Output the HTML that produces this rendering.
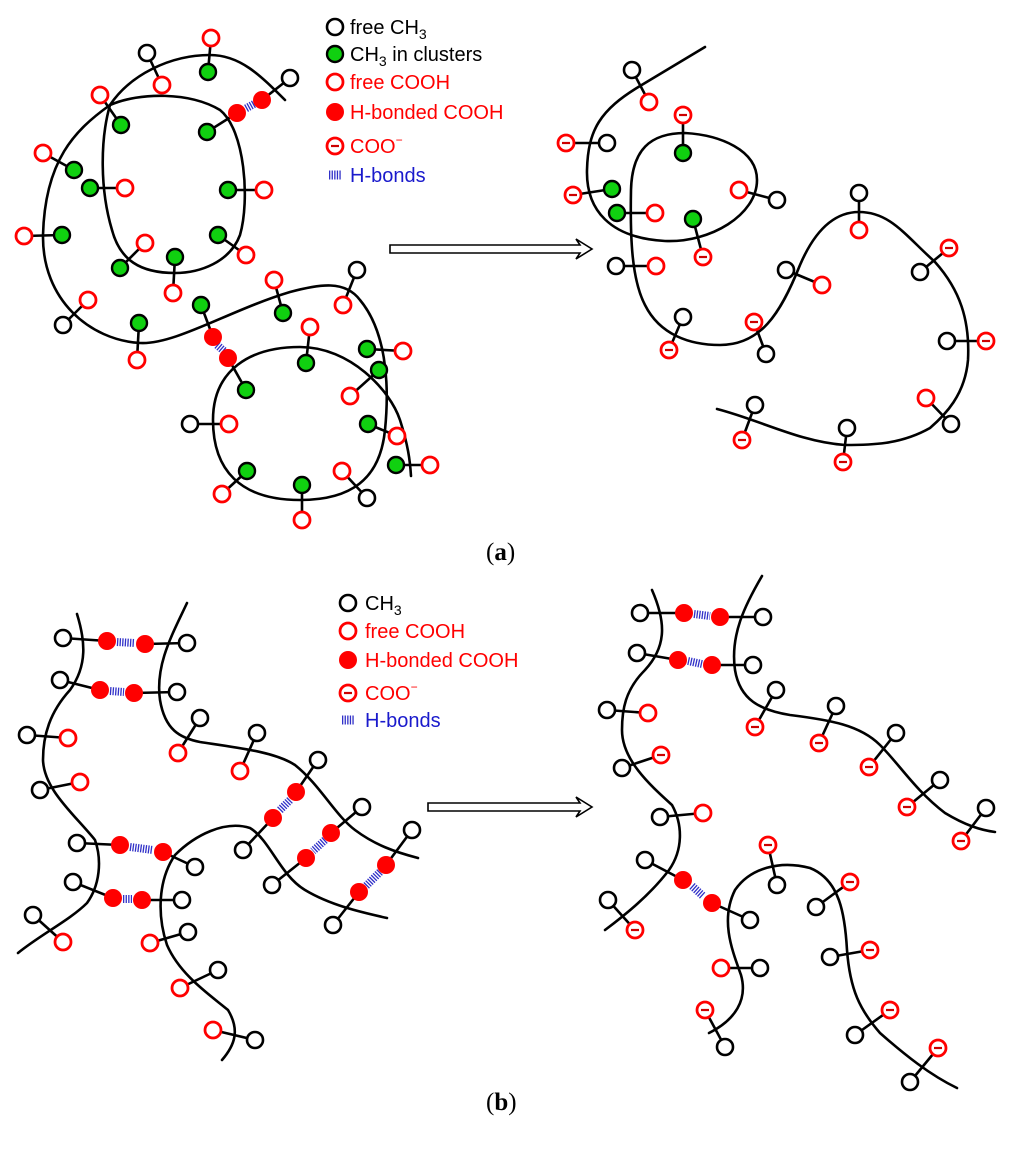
<!DOCTYPE html>
<html><head><meta charset="utf-8"><style>
html,body{margin:0;padding:0;background:#fff}
svg{display:block}
.ch{fill:none;stroke:#000;stroke-width:2.6;stroke-linecap:round;stroke-linejoin:round}
.st{stroke:#000;stroke-width:2.6}
.hb{stroke:#3030c8;stroke-width:8;stroke-dasharray:1.3 1.3}
.lg{font-family:"Liberation Sans",sans-serif;font-size:20px}
</style></head><body>
<svg width="1024" height="1151" viewBox="0 0 1024 1151" xmlns="http://www.w3.org/2000/svg">
<defs>
<g id="k"><circle r="8" fill="#fff" stroke="#000" stroke-width="2.6"/></g>
<g id="g"><circle r="8" fill="#10d010" stroke="#000" stroke-width="2.4"/></g>
<g id="r"><circle r="8" fill="#fff" stroke="#f00" stroke-width="2.8"/></g>
<g id="R"><circle r="9" fill="#f00"/></g>
<g id="m"><circle r="8" fill="#fff" stroke="#f00" stroke-width="2.8"/><line x1="-4" y1="0" x2="4" y2="0" stroke="#c00" stroke-width="2.2"/></g>
</defs>

<!-- ===== (a) left ===== -->
<path class="ch" d="M285,100 C260,75 240,55 210,55 C170,55 130,75 110,105 C75,130 45,160 43,235 C42,300 90,340 140,343 C175,345 230,310 290,292 C320,284 345,280 360,300 C385,330 390,380 385,430 C380,480 350,500 300,500 C240,500 213,470 213,420 C213,370 250,347 300,347 C350,347 390,390 400,420 C408,445 410,460 411,476"/>
<path class="ch" d="M110,105 C140,92 190,92 220,110 C245,130 250,200 240,235 C230,262 200,273 175,273 C140,273 120,260 112,230 C100,190 100,140 110,105 Z"/>
<g class="st">
<line x1="147" y1="53" x2="162" y2="85"/><line x1="211" y1="38" x2="208" y2="72"/>
<line x1="290" y1="78" x2="262" y2="100"/><line x1="237" y1="113" x2="207" y2="132"/>
<line x1="100" y1="95" x2="121" y2="125"/><line x1="43" y1="153" x2="74" y2="170"/>
<line x1="90" y1="188" x2="125" y2="188"/><line x1="24" y1="236" x2="62" y2="235"/>
<line x1="228" y1="190" x2="264" y2="190"/><line x1="145" y1="243" x2="120" y2="268"/>
<line x1="175" y1="257" x2="173" y2="293"/><line x1="218" y1="235" x2="246" y2="255"/>
<line x1="88" y1="300" x2="63" y2="325"/><line x1="139" y1="323" x2="137" y2="360"/>
<line x1="201" y1="305" x2="213" y2="337"/><line x1="228" y1="358" x2="246" y2="390"/>
<line x1="274" y1="280" x2="283" y2="313"/><line x1="357" y1="270" x2="343" y2="305"/>
<line x1="310" y1="327" x2="306" y2="363"/><line x1="367" y1="349" x2="403" y2="351"/>
<line x1="379" y1="370" x2="350" y2="396"/><line x1="190" y1="424" x2="229" y2="424"/>
<line x1="368" y1="424" x2="397" y2="436"/><line x1="396" y1="465" x2="430" y2="465"/>
<line x1="247" y1="471" x2="222" y2="494"/><line x1="302" y1="485" x2="302" y2="520"/>
<line x1="342" y1="471" x2="367" y2="498"/>
</g>
<line class="hb" x1="254" y1="104" x2="245" y2="109"/>
<line class="hb" x1="217" y1="345" x2="224" y2="351"/>
<use href="#k" x="147" y="53"/><use href="#r" x="162" y="85"/>
<use href="#r" x="211" y="38"/><use href="#g" x="208" y="72"/>
<use href="#k" x="290" y="78"/><use href="#R" x="262" y="100"/><use href="#R" x="237" y="113"/><use href="#g" x="207" y="132"/>
<use href="#r" x="100" y="95"/><use href="#g" x="121" y="125"/>
<use href="#r" x="43" y="153"/><use href="#g" x="74" y="170"/>
<use href="#g" x="90" y="188"/><use href="#r" x="125" y="188"/>
<use href="#r" x="24" y="236"/><use href="#g" x="62" y="235"/>
<use href="#g" x="228" y="190"/><use href="#r" x="264" y="190"/>
<use href="#r" x="145" y="243"/><use href="#g" x="120" y="268"/>
<use href="#g" x="175" y="257"/><use href="#r" x="173" y="293"/>
<use href="#g" x="218" y="235"/><use href="#r" x="246" y="255"/>
<use href="#r" x="88" y="300"/><use href="#k" x="63" y="325"/>
<use href="#g" x="139" y="323"/><use href="#r" x="137" y="360"/>
<use href="#g" x="201" y="305"/><use href="#R" x="213" y="337"/><use href="#R" x="228" y="358"/><use href="#g" x="246" y="390"/>
<use href="#r" x="274" y="280"/><use href="#g" x="283" y="313"/>
<use href="#k" x="357" y="270"/><use href="#r" x="343" y="305"/>
<use href="#r" x="310" y="327"/><use href="#g" x="306" y="363"/>
<use href="#g" x="367" y="349"/><use href="#r" x="403" y="351"/>
<use href="#g" x="379" y="370"/><use href="#r" x="350" y="396"/>
<use href="#k" x="190" y="424"/><use href="#r" x="229" y="424"/>
<use href="#g" x="368" y="424"/><use href="#r" x="397" y="436"/>
<use href="#g" x="396" y="465"/><use href="#r" x="430" y="465"/>
<use href="#g" x="247" y="471"/><use href="#r" x="222" y="494"/>
<use href="#g" x="302" y="485"/><use href="#r" x="302" y="520"/>
<use href="#r" x="342" y="471"/><use href="#k" x="367" y="498"/>

<!-- legend a -->
<use href="#k" x="335" y="27"/><use href="#g" x="335" y="54"/><use href="#r" x="335" y="82"/><use href="#R" x="335" y="112"/><use href="#m" x="335" y="146"/>
<line class="hb" x1="329" y1="175" x2="341" y2="175" style="stroke-width:9"/>
<text class="lg" x="350" y="34">free CH<tspan font-size="14" dy="5">3</tspan></text>
<text class="lg" x="350" y="61">CH<tspan font-size="14" dy="5">3</tspan><tspan dy="-5"> in clusters</tspan></text>
<text class="lg" x="350" y="89" fill="#f00">free COOH</text>
<text class="lg" x="350" y="119" fill="#f00">H-bonded COOH</text>
<text class="lg" x="350" y="153" fill="#f00">COO<tspan font-size="12" dy="-9">−</tspan></text>
<text class="lg" x="350" y="182" fill="#1a1acc">H-bonds</text>

<!-- arrow a -->
<polygon points="390,245 580,245 576,239 592,249 576,259 580,253 390,253" fill="#fff" stroke="#000" stroke-width="1.6"/>

<!-- ===== (a) right ===== -->
<path class="ch" d="M705,47 L640,86 C600,110 588,130 587,170 C586,210 610,238 665,241 C710,243 757,215 757,180 C757,150 720,135 685,133 C650,133 632,150 631,190 C630,240 632,280 645,305 C660,335 690,345 720,345 C760,345 780,315 800,265 C815,230 835,212 859,212 C890,212 905,235 935,262 C960,290 970,320 968,360 C965,395 945,415 930,428 C900,445 870,445 845,445 C800,442 760,420 717,409"/>
<g class="st">
<line x1="632" y1="70" x2="649" y2="102"/><line x1="683" y1="115" x2="683" y2="153"/>
<line x1="566" y1="143" x2="607" y2="143"/><line x1="573" y1="195" x2="612" y2="189"/>
<line x1="617" y1="213" x2="655" y2="213"/><line x1="739" y1="190" x2="777" y2="200"/>
<line x1="693" y1="219" x2="703" y2="257"/><line x1="616" y1="266" x2="656" y2="266"/>
<line x1="683" y1="317" x2="669" y2="350"/><line x1="754" y1="322" x2="766" y2="354"/>
<line x1="786" y1="270" x2="822" y2="285"/><line x1="859" y1="193" x2="859" y2="230"/>
<line x1="949" y1="248" x2="920" y2="272"/><line x1="947" y1="341" x2="986" y2="341"/>
<line x1="926" y1="398" x2="951" y2="424"/><line x1="755" y1="405" x2="742" y2="440"/>
<line x1="847" y1="428" x2="843" y2="462"/>
</g>
<use href="#k" x="632" y="70"/><use href="#r" x="649" y="102"/>
<use href="#m" x="683" y="115"/><use href="#g" x="683" y="153"/>
<use href="#m" x="566" y="143"/><use href="#k" x="607" y="143"/>
<use href="#m" x="573" y="195"/><use href="#g" x="612" y="189"/>
<use href="#g" x="617" y="213"/><use href="#r" x="655" y="213"/>
<use href="#r" x="739" y="190"/><use href="#k" x="777" y="200"/>
<use href="#g" x="693" y="219"/><use href="#m" x="703" y="257"/>
<use href="#k" x="616" y="266"/><use href="#r" x="656" y="266"/>
<use href="#k" x="683" y="317"/><use href="#m" x="669" y="350"/>
<use href="#m" x="754" y="322"/><use href="#k" x="766" y="354"/>
<use href="#k" x="786" y="270"/><use href="#r" x="822" y="285"/>
<use href="#k" x="859" y="193"/><use href="#r" x="859" y="230"/>
<use href="#m" x="949" y="248"/><use href="#k" x="920" y="272"/>
<use href="#k" x="947" y="341"/><use href="#m" x="986" y="341"/>
<use href="#r" x="926" y="398"/><use href="#k" x="951" y="424"/>
<use href="#k" x="755" y="405"/><use href="#m" x="742" y="440"/>
<use href="#k" x="847" y="428"/><use href="#m" x="843" y="462"/>

<text x="486" y="560" font-family="Liberation Serif,serif" font-size="25">(<tspan font-weight="bold">a</tspan>)</text>

<!-- ===== (b) left ===== -->
<path class="ch" d="M77,614 C85,640 88,665 70,690 C50,712 43,735 43,760 C44,790 75,815 95,840 C102,860 100,885 87,903 C70,920 40,935 18,953"/>
<path class="ch" d="M187,603 C172,635 155,665 160,700 C165,730 180,738 200,742 C240,748 275,752 295,765 C320,785 335,815 355,830 C375,845 395,852 418,858"/>
<path class="ch" d="M387,918 C360,912 330,905 305,890 C280,875 270,840 250,828 C225,820 195,835 175,855 C158,880 157,915 167,945 C180,975 210,995 228,1010 C240,1030 235,1045 222,1060"/>
<g class="st">
<line x1="63" y1="638" x2="107" y2="641"/><line x1="145" y1="644" x2="187" y2="643"/>
<line x1="60" y1="680" x2="100" y2="690"/><line x1="134" y1="693" x2="177" y2="692"/>
<line x1="27" y1="735" x2="68" y2="738"/><line x1="40" y1="790" x2="80" y2="782"/>
<line x1="178" y1="753" x2="200" y2="718"/><line x1="240" y1="771" x2="257" y2="733"/>
<line x1="318" y1="760" x2="296" y2="792"/><line x1="273" y1="818" x2="243" y2="850"/>
<line x1="362" y1="807" x2="331" y2="833"/><line x1="306" y1="858" x2="272" y2="885"/>
<line x1="412" y1="830" x2="386" y2="865"/><line x1="359" y1="892" x2="333" y2="925"/>
<line x1="77" y1="843" x2="120" y2="845"/><line x1="163" y1="852" x2="195" y2="867"/>
<line x1="73" y1="882" x2="113" y2="898"/><line x1="142" y1="900" x2="182" y2="900"/>
<line x1="33" y1="915" x2="63" y2="942"/><line x1="150" y1="943" x2="188" y2="932"/>
<line x1="180" y1="988" x2="218" y2="970"/><line x1="213" y1="1030" x2="255" y2="1040"/>
</g>
<g class="hb">
<line x1="117" y1="642" x2="135" y2="643"/><line x1="110" y1="691" x2="124" y2="692"/>
<line x1="290" y1="800" x2="279" y2="811"/><line x1="325" y1="840" x2="313" y2="851"/>
<line x1="380" y1="872" x2="366" y2="886"/><line x1="130" y1="847" x2="153" y2="850"/>
<line x1="123" y1="899" x2="132" y2="899"/>
</g>
<use href="#k" x="63" y="638"/><use href="#R" x="107" y="641"/><use href="#R" x="145" y="644"/><use href="#k" x="187" y="643"/>
<use href="#k" x="60" y="680"/><use href="#R" x="100" y="690"/><use href="#R" x="134" y="693"/><use href="#k" x="177" y="692"/>
<use href="#k" x="27" y="735"/><use href="#r" x="68" y="738"/>
<use href="#k" x="40" y="790"/><use href="#r" x="80" y="782"/>
<use href="#r" x="178" y="753"/><use href="#k" x="200" y="718"/>
<use href="#r" x="240" y="771"/><use href="#k" x="257" y="733"/>
<use href="#k" x="318" y="760"/><use href="#R" x="296" y="792"/><use href="#R" x="273" y="818"/><use href="#k" x="243" y="850"/>
<use href="#k" x="362" y="807"/><use href="#R" x="331" y="833"/><use href="#R" x="306" y="858"/><use href="#k" x="272" y="885"/>
<use href="#k" x="412" y="830"/><use href="#R" x="386" y="865"/><use href="#R" x="359" y="892"/><use href="#k" x="333" y="925"/>
<use href="#k" x="77" y="843"/><use href="#R" x="120" y="845"/><use href="#R" x="163" y="852"/><use href="#k" x="195" y="867"/>
<use href="#k" x="73" y="882"/><use href="#R" x="113" y="898"/><use href="#R" x="142" y="900"/><use href="#k" x="182" y="900"/>
<use href="#k" x="33" y="915"/><use href="#r" x="63" y="942"/>
<use href="#r" x="150" y="943"/><use href="#k" x="188" y="932"/>
<use href="#r" x="180" y="988"/><use href="#k" x="218" y="970"/>
<use href="#r" x="213" y="1030"/><use href="#k" x="255" y="1040"/>

<!-- legend b -->
<use href="#k" x="348" y="603"/><use href="#r" x="348" y="631"/><use href="#R" x="348" y="660"/><use href="#m" x="348" y="693"/>
<line class="hb" x1="342" y1="720" x2="354" y2="720" style="stroke-width:9"/>
<text class="lg" x="365" y="610">CH<tspan font-size="14" dy="5">3</tspan></text>
<text class="lg" x="365" y="638" fill="#f00">free COOH</text>
<text class="lg" x="365" y="667" fill="#f00">H-bonded COOH</text>
<text class="lg" x="365" y="700" fill="#f00">COO<tspan font-size="12" dy="-9">−</tspan></text>
<text class="lg" x="365" y="727" fill="#1a1acc">H-bonds</text>

<polygon points="428,803 580,803 576,797 592,807 576,817 580,811 428,811" fill="#fff" stroke="#000" stroke-width="1.6"/>

<!-- ===== (b) right ===== -->
<path class="ch" d="M652,590 C665,620 668,645 645,670 C625,690 622,710 622,730 C622,760 650,785 672,805 C683,825 683,850 669,870 C650,895 625,915 605,930"/>
<path class="ch" d="M762,576 C745,605 730,635 735,670 C740,700 760,710 790,715 C830,720 860,725 880,745 C900,765 915,790 945,813 C965,825 980,830 995,832"/>
<path class="ch" d="M709,1033 C735,1020 748,1000 741,975 C732,950 720,920 735,890 C750,868 780,860 810,868 C840,880 845,915 847,950 C850,990 860,1010 880,1033 C905,1055 930,1075 957,1088"/>
<g class="st">
<line x1="640" y1="613" x2="684" y2="613"/><line x1="720" y1="617" x2="763" y2="617"/>
<line x1="637" y1="653" x2="678" y2="660"/><line x1="712" y1="665" x2="753" y2="665"/>
<line x1="607" y1="710" x2="648" y2="713"/><line x1="622" y1="768" x2="661" y2="755"/>
<line x1="660" y1="817" x2="703" y2="813"/>
<line x1="645" y1="860" x2="683" y2="880"/><line x1="712" y1="903" x2="750" y2="920"/>
<line x1="608" y1="900" x2="635" y2="930"/><line x1="755" y1="727" x2="776" y2="690"/>
<line x1="819" y1="743" x2="836" y2="706"/><line x1="869" y1="767" x2="896" y2="733"/>
<line x1="907" y1="807" x2="940" y2="780"/><line x1="961" y1="841" x2="986" y2="808"/>
<line x1="768" y1="845" x2="777" y2="885"/><line x1="850" y1="882" x2="816" y2="907"/>
<line x1="721" y1="968" x2="760" y2="968"/><line x1="830" y1="957" x2="870" y2="950"/>
<line x1="705" y1="1010" x2="725" y2="1047"/><line x1="890" y1="1010" x2="855" y2="1035"/>
<line x1="938" y1="1048" x2="910" y2="1082"/>
</g>
<g class="hb">
<line x1="694" y1="614" x2="710" y2="616"/><line x1="688" y1="661" x2="702" y2="664"/>
<line x1="692" y1="886" x2="703" y2="896"/>
</g>
<use href="#k" x="640" y="613"/><use href="#R" x="684" y="613"/><use href="#R" x="720" y="617"/><use href="#k" x="763" y="617"/>
<use href="#k" x="637" y="653"/><use href="#R" x="678" y="660"/><use href="#R" x="712" y="665"/><use href="#k" x="753" y="665"/>
<use href="#k" x="607" y="710"/><use href="#r" x="648" y="713"/>
<use href="#k" x="622" y="768"/><use href="#m" x="661" y="755"/>
<use href="#k" x="660" y="817"/><use href="#r" x="703" y="813"/>
<use href="#k" x="645" y="860"/><use href="#R" x="683" y="880"/><use href="#R" x="712" y="903"/><use href="#k" x="750" y="920"/>
<use href="#k" x="608" y="900"/><use href="#m" x="635" y="930"/>
<use href="#m" x="755" y="727"/><use href="#k" x="776" y="690"/>
<use href="#m" x="819" y="743"/><use href="#k" x="836" y="706"/>
<use href="#m" x="869" y="767"/><use href="#k" x="896" y="733"/>
<use href="#m" x="907" y="807"/><use href="#k" x="940" y="780"/>
<use href="#m" x="961" y="841"/><use href="#k" x="986" y="808"/>
<use href="#m" x="768" y="845"/><use href="#k" x="777" y="885"/>
<use href="#m" x="850" y="882"/><use href="#k" x="816" y="907"/>
<use href="#r" x="721" y="968"/><use href="#k" x="760" y="968"/>
<use href="#k" x="830" y="957"/><use href="#m" x="870" y="950"/>
<use href="#m" x="705" y="1010"/><use href="#k" x="725" y="1047"/>
<use href="#m" x="890" y="1010"/><use href="#k" x="855" y="1035"/>
<use href="#m" x="938" y="1048"/><use href="#k" x="910" y="1082"/>

<text x="486" y="1110" font-family="Liberation Serif,serif" font-size="25">(<tspan font-weight="bold">b</tspan>)</text>
</svg>
</body></html>
